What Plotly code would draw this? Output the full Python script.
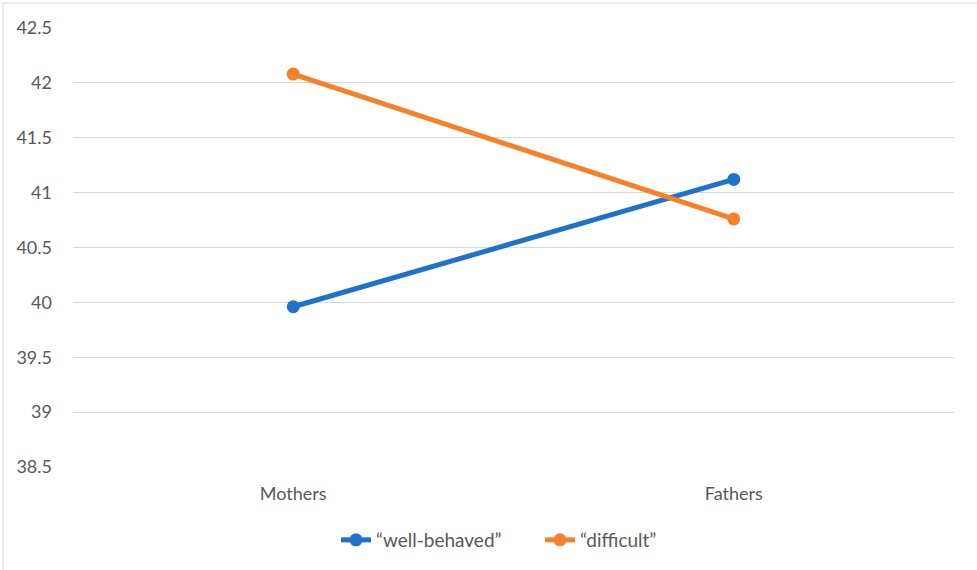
import plotly.graph_objects as go

categories = ["Mothers", "Fathers"]
well_behaved = [39.96, 41.12]
difficult = [42.08, 40.76]
series_names = ["\u201cwell-behaved\u201d", "\u201cdifficult\u201d"]
y_ticks = [38.5, 39, 39.5, 40, 40.5, 41, 41.5, 42, 42.5]
y_tick_labels = ["38.5", "39", "39.5", "40", "40.5", "41", "41.5", "42", "42.5"]

blue = "#1f71c9"
orange = "#f7812b"
text_color = "#595959"
font_family = "Lato, Open Sans, sans-serif"

fig = go.Figure()
fig.add_trace(go.Scatter(
    x=categories, y=well_behaved, name=series_names[0], mode="lines+markers",
    line=dict(color=blue, width=5), marker=dict(color=blue, size=13)))
fig.add_trace(go.Scatter(
    x=categories, y=difficult, name=series_names[1], mode="lines+markers",
    line=dict(color=orange, width=5), marker=dict(color=orange, size=13)))

fig.update_layout(
    width=977, height=570,
    margin=dict(l=73, r=23, t=28, b=102),
    paper_bgcolor="white", plot_bgcolor="white",
    font=dict(family=font_family, size=18, color=text_color),
    showlegend=True,
    legend=dict(orientation="h", x=(336 - 73) / 881, xanchor="left", y=-0.1636, yanchor="middle",
                font=dict(size=19, color=text_color), itemwidth=30,
                entrywidth=159, entrywidthmode="pixels",
                traceorder="normal"),
    xaxis=dict(type="category", range=[-0.5, 1.5], showgrid=False, showline=False,
               zeroline=False, ticks="", ticklabelstandoff=14),
    yaxis=dict(range=[38.5, 42.5], tickvals=y_ticks, ticktext=y_tick_labels,
               showgrid=True, gridcolor="#d9d9d9", gridwidth=1, zeroline=False,
               showline=False, ticks="", ticklabelstandoff=20),
    shapes=[
        dict(type="line", xref="paper", yref="paper", x0=-0.0795, x1=1.03,
             y0=1.0568, y1=1.0568, line=dict(color="#d9d9d9", width=1)),
        dict(type="line", xref="paper", yref="paper", x0=-0.0795, x1=-0.0795,
             y0=1.0568, y1=-0.24, line=dict(color="#d9d9d9", width=1)),
    ],
)

fig.write_html("out.html")
